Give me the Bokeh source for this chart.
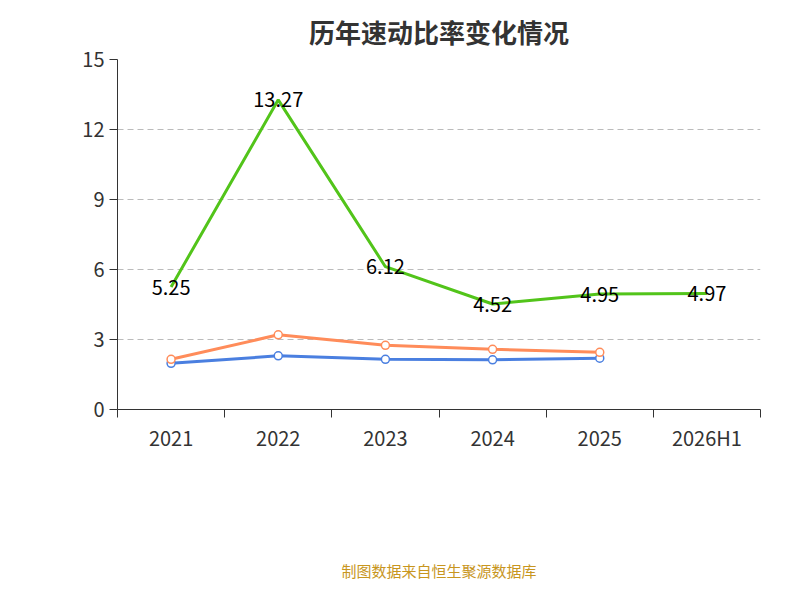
from bokeh.plotting import figure
from bokeh.models import FixedTicker, Legend, LegendItem, ColumnDataSource
from bokeh.embed import file_html
from bokeh.resources import INLINE
from bokeh.core.properties import value

years = ["2021", "2022", "2023", "2024", "2025", "2026H1"]
quick = [5.25, 13.27, 6.12, 4.52, 4.95, 4.97]
ind_avg = [1.98, 2.3, 2.15, 2.13, 2.2]
ind_med = [2.15, 3.2, 2.75, 2.58, 2.45]
xs = list(range(len(years)))

F = "Noto Sans CJK SC"
p = figure(frame_width=643, frame_height=350, output_backend="svg", toolbar_location=None,
           x_range=(-0.5, 5.5), y_range=(0, 15),
           min_border_left=117, min_border_right=16, min_border_top=30, min_border_bottom=0)
p.title.text = "历年速动比率变化情况"
p.title.align = "center"
p.title.text_font = F
p.title.text_font_size = "26px"
p.title.text_color = "#333333"
p.title.standoff = 20
p.outline_line_color = None
p.xgrid.grid_line_color = None
p.ygrid.grid_line_dash = "6 4"
p.ygrid.grid_line_color = "#bbbbbb"

p.yaxis.ticker = FixedTicker(ticks=[0, 3, 6, 9, 12, 15])
p.xaxis.ticker = FixedTicker(ticks=xs, minor_ticks=[i - 0.5 for i in range(7)])
p.xaxis.major_label_overrides = {i: y for i, y in enumerate(years)}
p.xaxis.major_tick_out = 0
p.xaxis.major_tick_in = 0
p.xaxis.minor_tick_out = 8
p.xaxis.minor_tick_in = 0
p.yaxis.major_tick_in = 0
p.yaxis.major_tick_out = 8
for ax in (p.xaxis, p.yaxis):
    ax.major_label_text_font = F
    ax.major_label_text_font_size = "20px"
    ax.major_label_text_color = "#333333"
    ax.axis_line_color = "#333333"
    ax.major_tick_line_color = "#333333"
    ax.minor_tick_line_color = "#333333"
p.yaxis.minor_tick_line_color = None
p.xaxis.axis_label = "制图数据来自恒生聚源数据库"
p.xaxis.axis_label_text_font = F
p.xaxis.axis_label_text_font_size = "15px"
p.xaxis.axis_label_text_font_style = "normal"
p.xaxis.axis_label_text_color = "#c8961e"
p.xaxis.axis_label_standoff = 105

g = "#52c41a"; b = "#4a7fe0"; o = "#ff8c5a"
r1 = p.line(xs, quick, line_color=g, line_width=3)
r2 = p.line(xs[:5], ind_avg, line_color=b, line_width=3)
p.scatter(xs[:5], ind_avg, size=8, fill_color="white", line_color=b, line_width=1.5)
r3 = p.line(xs[:5], ind_med, line_color=o, line_width=3)
p.scatter(xs[:5], ind_med, size=8, fill_color="white", line_color=o, line_width=1.5)

src = ColumnDataSource(dict(x=xs, y=quick, t=[f"{v:.2f}" for v in quick]))
p.text("x", "y", text="t", source=src, text_align="center", text_baseline="middle",
       text_font=value(F), text_font_size="20px", text_color="black")

l1 = p.scatter([0], [0], size=18, fill_color="white", line_color=g, line_width=2, visible=False)
l2 = p.scatter([0], [0], size=18, fill_color="white", line_color=b, line_width=2, visible=False)
l3 = p.scatter([0], [0], size=18, fill_color="white", line_color=o, line_width=2, visible=False)
leg = Legend(items=[LegendItem(label="速动比率", renderers=[r1, l1]),
                    LegendItem(label="行业均值", renderers=[r2, l2]),
                    LegendItem(label="行业中位数", renderers=[r3, l3])],
             orientation="horizontal", location=(0, -120),
             label_text_font=F, label_text_font_size="20px", label_text_color="#333333",
             border_line_color=None, background_fill_alpha=0,
             glyph_width=50, spacing=20)
p.add_layout(leg, "center")

open("out.html", "w").write(file_html(p, INLINE))
